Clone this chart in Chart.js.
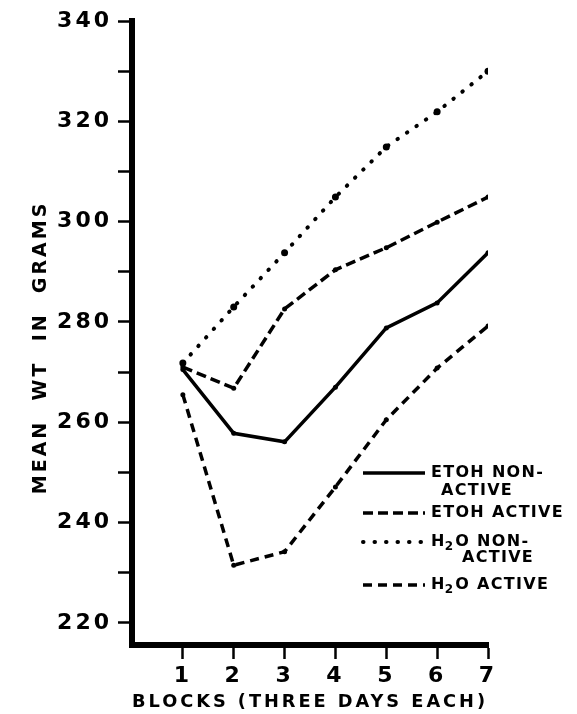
<!DOCTYPE html>
<html>
<head>
<meta charset="utf-8">
<script src="https://cdn.jsdelivr.net/npm/chart.js@4/dist/chart.umd.min.js"></script>
<style>
  html, body { margin: 0; padding: 0; background: #fff; }
  canvas { display: block; }
</style>
</head>
<body>
<canvas id="chart" width="577" height="714"></canvas>
<script>
// Blocks of three days each
const BLOCKS = [1, 2, 3, 4, 5, 6, 7]

// Mean body weight (grams)
const ETOH_NON_ACTIVE = [270.5, 257.8, 256.1, 267.0, 278.8, 283.8, 293.8]
const ETOH_ACTIVE = [271.0, 266.8, 282.6, 290.4, 294.8, 299.9, 304.9]
const H2O_NON_ACTIVE = [271.8, 283.0, 293.8, 304.9, 314.9, 321.9, 330.0]
const H2O_ACTIVE = [265.5, 231.5, 234.2, 247.1, 260.5, 270.8, 279.2]

const SERIES_LABELS = ['ETOH NON-ACTIVE', 'ETOH ACTIVE', 'H2O NON-ACTIVE', 'H2O ACTIVE']
const LEGEND_TEXT = [['ETOH NON-', 'ACTIVE'], ['ETOH ACTIVE'], ['H2O NON-', 'ACTIVE'], ['H2O ACTIVE']]

const Y_TICKS = [220, 230, 240, 250, 260, 270, 280, 290, 300, 310, 320, 330, 340]
const X_TICKS = [1, 2, 3, 4, 5, 6, 7]

const FONT = 'DejaVu Sans'
const INK = '#000'

const toPoints = values => values.map((v, i) => ({ x: BLOCKS[i], y: v }))

// Draw text, lowering the "2" of H2O as a subscript
function drawLabel(ctx, text, x, y) {
  const parts = text.split('H2O')
  let cx = x
  parts.forEach((part, i) => {
    if (i > 0) {
      ctx.fillText('H', cx, y)
      cx += ctx.measureText('H').width
      const font = ctx.font
      ctx.font = `bold 12px ${FONT}`
      ctx.fillText('2', cx - 1, y + 5)
      cx += ctx.measureText('2').width
      ctx.font = font
      ctx.fillText('O', cx, y)
      cx += ctx.measureText('O').width
    }
    ctx.fillText(part, cx, y)
    cx += ctx.measureText(part).width
  })
}

// Lettering in the original is widely spaced
const spacingPlugin = {
  id: 'spacing',
  beforeUpdate(chart) { chart.ctx.letterSpacing = '3px' },
  beforeDraw(chart) { chart.ctx.letterSpacing = '3px' },
}

// Key in the lower right, built from the datasets' own line styles
const keyPlugin = {
  id: 'figureKey',
  afterDraw(chart) {
    const ctx = chart.ctx
    const rows = [473, 513, 542, 585]
    const second = [[441, 491], null, [462, 558], null]
    ctx.save()
    ctx.letterSpacing = '1.3px'
    ctx.font = `bold 16px ${FONT}`
    ctx.fillStyle = INK
    ctx.textBaseline = 'middle'
    chart.data.datasets.forEach((ds, i) => {
      const y = rows[i]
      ctx.beginPath()
      ctx.setLineDash(ds.borderDash || [])
      ctx.lineCap = ds.borderCapStyle || 'butt'
      ctx.lineWidth = ds.borderWidth
      ctx.strokeStyle = ds.borderColor
      ctx.moveTo(363, y)
      ctx.lineTo(425, y)
      ctx.stroke()
      const lines = LEGEND_TEXT[i]
      drawLabel(ctx, lines[0], 431, y)
      if (lines[1]) drawLabel(ctx, lines[1], second[i][0], second[i][1])
    })
    ctx.restore()
  },
}

const ctx = document.getElementById('chart').getContext('2d')

new Chart(ctx, {
  type: 'line',
  data: {
    datasets: [
      {
        label: SERIES_LABELS[0],
        data: toPoints(ETOH_NON_ACTIVE),
        borderColor: INK,
        borderWidth: 3.5,
        borderDash: [],
        pointRadius: 2.5,
      },
      {
        label: SERIES_LABELS[1],
        data: toPoints(ETOH_ACTIVE),
        borderColor: INK,
        borderWidth: 3.5,
        borderDash: [10, 5],
        pointRadius: 2.5,
      },
      {
        label: SERIES_LABELS[2],
        data: toPoints(H2O_NON_ACTIVE),
        borderColor: INK,
        borderWidth: 4,
        borderDash: [0.5, 11],
        borderCapStyle: 'round',
        pointRadius: 3.5,
      },
      {
        label: SERIES_LABELS[3],
        data: toPoints(H2O_ACTIVE),
        borderColor: INK,
        borderWidth: 3.5,
        borderDash: [9, 6],
        pointRadius: 2.5,
      },
    ].map(ds => ({
      ...ds,
      backgroundColor: INK,
      pointBackgroundColor: INK,
      pointBorderWidth: 0,
      tension: 0,
      fill: false,
    })),
  },
  options: {
    responsive: false,
    animation: false,
    events: [],
    layout: { padding: { top: 21, right: 89, left: 0, bottom: 0 } },
    plugins: {
      legend: { display: false },
      tooltip: { enabled: false },
    },
    scales: {
      x: {
        type: 'linear',
        min: 0,
        max: 7,
        afterBuildTicks: scale => { scale.ticks = X_TICKS.map(v => ({ value: v })) },
        afterFit: scale => { scale.height = 69 },
        border: { color: INK, width: 6 },
        grid: { drawOnChartArea: false, drawTicks: true, tickLength: 14, tickWidth: 2.5, tickColor: INK },
        ticks: {
          color: INK,
          padding: 4,
          autoSkip: false,
          maxRotation: 0,
          font: { family: FONT, size: 22, weight: 'bold' },
        },
        title: {
          display: true,
          text: 'BLOCKS (THREE DAYS EACH)',
          color: INK,
          font: { family: FONT, size: 18, weight: 'bold' },
          padding: { top: 0, bottom: 1 },
        },
      },
      y: {
        type: 'linear',
        min: 215.6,
        max: 340,
        afterBuildTicks: scale => { scale.ticks = Y_TICKS.map(v => ({ value: v })) },
        afterFit: scale => { scale.width = 132 },
        border: { color: INK, width: 6 },
        grid: { drawOnChartArea: false, drawTicks: true, tickLength: 14, tickWidth: 2.5, tickColor: INK },
        ticks: {
          color: INK,
          padding: 6,
          autoSkip: false,
          callback: v => (v % 20 === 0 ? v : ''),
          font: { family: FONT, size: 22, weight: 'bold' },
        },
        title: {
          display: true,
          text: 'MEAN  WT  IN  GRAMS   ',
          color: INK,
          font: { family: FONT, size: 19, weight: 'bold' },
          padding: { top: 30, bottom: 0 },
        },
      },
    },
  },
  plugins: [spacingPlugin, keyPlugin],
})
</script>
</body>
</html>
